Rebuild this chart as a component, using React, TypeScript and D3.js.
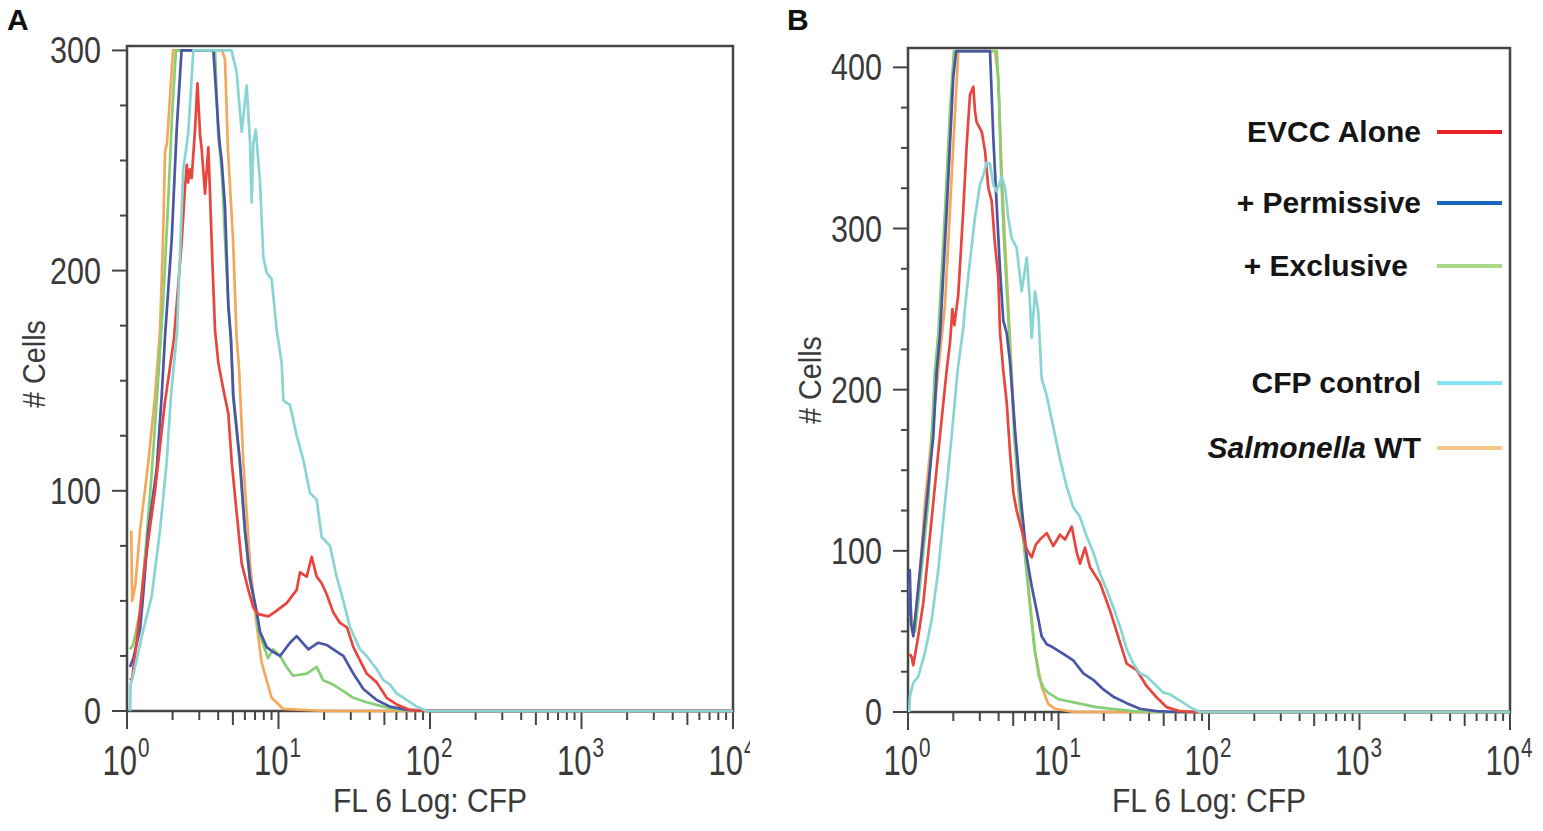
import React, { useEffect, useRef } from 'react';
import * as d3 from 'd3';

// each point: [log10 of FL6 intensity, number of cells]
type Pt = [number, number];

const seriesNames = ['EVCC Alone', '+ Permissive', '+ Exclusive', 'CFP control', 'Salmonella WT'];
const plotColors = ['#e8453f', '#4a55a6', '#86cf74', '#88d5d3', '#f3a85c'];
const legendColors = ['#e8212a', '#1a66bd', '#a9d98b', '#86e4f2', '#f7c88c'];
// order the histograms are painted in (index into seriesNames)
const drawOrder = [4, 2, 1, 0, 3];

const xDecades = [0, 1, 2, 3, 4];
const yTicksA = [0, 100, 200, 300];
const yTicksB = [0, 100, 200, 300, 400];

// ---- Panel A ----
const aEvcc: Pt[] = [
  [0.02, 14], [0.035, 15], [0.073, 37], [0.119, 67], [0.185, 100], [0.25, 140], [0.31, 169],
  [0.361, 213], [0.383, 238], [0.395, 248], [0.403, 240], [0.415, 246], [0.427, 242], [0.449, 264],
  [0.465, 285], [0.482, 262], [0.493, 255], [0.515, 235], [0.537, 256], [0.548, 235], [0.563, 205],
  [0.581, 173], [0.603, 158], [0.636, 146], [0.669, 135], [0.691, 113], [0.724, 90], [0.757, 67],
  [0.801, 55], [0.834, 47], [0.867, 44], [0.933, 43], [0.977, 45], [1.054, 49], [1.12, 55],
  [1.142, 63], [1.186, 61], [1.219, 70], [1.252, 61], [1.285, 58], [1.318, 53], [1.36, 45],
  [1.406, 40], [1.452, 38], [1.494, 29], [1.538, 23], [1.582, 17], [1.648, 13], [1.714, 6],
  [1.78, 3], [1.868, 0.5], [2, 0], [4, 0]
];
const aPermissive: Pt[] = [
  [0.02, 20], [0.042, 24], [0.086, 37], [0.106, 52], [0.141, 82], [0.196, 110], [0.229, 143],
  [0.251, 170], [0.295, 214], [0.328, 264], [0.36, 300], [0.57, 300], [0.603, 265], [0.614, 256],
  [0.625, 250], [0.647, 229], [0.669, 184], [0.686, 169], [0.702, 143], [0.746, 113], [0.779, 82],
  [0.812, 60], [0.856, 45], [0.878, 36], [0.922, 29], [0.96, 27], [1.01, 25], [1.076, 31],
  [1.12, 34], [1.197, 28], [1.263, 31], [1.318, 30], [1.384, 27], [1.428, 25], [1.494, 17],
  [1.56, 10], [1.648, 5], [1.736, 2], [1.85, 0.5], [2, 0], [4, 0]
];
const aExclusive: Pt[] = [
  [0.02, 28], [0.04, 30], [0.086, 45], [0.125, 75], [0.165, 110], [0.205, 150], [0.238, 185],
  [0.271, 230], [0.297, 270], [0.323, 300], [0.581, 300], [0.603, 260], [0.614, 254], [0.629, 241],
  [0.647, 214], [0.669, 184], [0.686, 169], [0.7, 143], [0.744, 113], [0.777, 82], [0.81, 60],
  [0.854, 45], [0.865, 37], [0.9, 30], [0.931, 24], [0.964, 28], [1.01, 25], [1.054, 20],
  [1.096, 16], [1.186, 17], [1.252, 20], [1.294, 14], [1.36, 12], [1.428, 9], [1.494, 6],
  [1.582, 4], [1.692, 2], [1.8, 0.5], [2, 0], [4, 0]
];
const aCfp: Pt[] = [
  [0.02, 0], [0.024, 12], [0.04, 16], [0.108, 37], [0.163, 52], [0.218, 82], [0.262, 113],
  [0.29, 143], [0.33, 172], [0.372, 247], [0.39, 255], [0.405, 263], [0.42, 280], [0.438, 300],
  [0.69, 300], [0.724, 290], [0.757, 263], [0.79, 284], [0.812, 258], [0.823, 231], [0.834, 258],
  [0.85, 264], [0.878, 240], [0.9, 206], [0.922, 199], [0.955, 196], [0.988, 173], [1.021, 158],
  [1.032, 141], [1.076, 139], [1.12, 125], [1.164, 114], [1.208, 99], [1.252, 96], [1.285, 79],
  [1.34, 75], [1.384, 61], [1.428, 50], [1.472, 38], [1.538, 28], [1.582, 25], [1.648, 19],
  [1.692, 14], [1.736, 12], [1.78, 8], [1.846, 5], [1.912, 2], [1.978, 0], [4, 0]
];
const aSalmonella: Pt[] = [
  [0.028, 82], [0.034, 50], [0.055, 57], [0.086, 82], [0.141, 113], [0.185, 143], [0.218, 173],
  [0.238, 215], [0.251, 254], [0.264, 258], [0.304, 300], [0.627, 300], [0.647, 296], [0.667, 254],
  [0.7, 214], [0.724, 169], [0.74, 155], [0.768, 113], [0.812, 67], [0.845, 45], [0.889, 22],
  [0.955, 6], [1.03, 1], [1.3, 0], [4, 0]
];

// ---- Panel B ----
const bEvcc: Pt[] = [
  [0.012, 36], [0.025, 34], [0.035, 29], [0.068, 47], [0.102, 68], [0.135, 99], [0.168, 130],
  [0.201, 161], [0.235, 192], [0.257, 212], [0.28, 230], [0.295, 250], [0.308, 240], [0.334, 259],
  [0.367, 311], [0.39, 352], [0.412, 383], [0.434, 388], [0.445, 373], [0.456, 366], [0.49, 360],
  [0.512, 348], [0.534, 325], [0.556, 317], [0.578, 290], [0.6, 270], [0.611, 236], [0.633, 212],
  [0.656, 192], [0.678, 161], [0.7, 136], [0.722, 125], [0.755, 113], [0.789, 101], [0.822, 96],
  [0.85, 104], [0.877, 107], [0.922, 111], [0.965, 103], [1.01, 110], [1.043, 107], [1.088, 115],
  [1.121, 99], [1.143, 92], [1.176, 102], [1.209, 90], [1.276, 80], [1.342, 63], [1.409, 43],
  [1.453, 30], [1.52, 26], [1.586, 16], [1.653, 9], [1.719, 3], [1.807, 0.5], [1.9, 0], [4, 0]
];
const bPermissive: Pt[] = [
  [0.008, 60], [0.012, 88], [0.02, 55], [0.035, 47], [0.08, 88], [0.124, 130], [0.168, 171],
  [0.191, 212], [0.213, 234], [0.257, 311], [0.301, 394], [0.32, 410], [0.545, 410], [0.567, 356],
  [0.589, 315], [0.611, 275], [0.633, 243], [0.656, 235], [0.678, 217], [0.711, 175], [0.75, 132],
  [0.789, 96], [0.822, 78], [0.855, 63], [0.888, 47], [0.922, 42], [0.965, 40], [1.032, 36],
  [1.098, 32], [1.165, 24], [1.231, 20], [1.298, 14], [1.364, 9.5], [1.453, 5.5], [1.541, 2],
  [1.65, 0.5], [1.8, 0], [4, 0]
];
const bExclusive: Pt[] = [
  [0.01, 60], [0.047, 50], [0.068, 68], [0.135, 130], [0.179, 212], [0.201, 234], [0.246, 311],
  [0.279, 373], [0.305, 410], [0.59, 410], [0.605, 380], [0.62, 330], [0.64, 290], [0.66, 255],
  [0.685, 212], [0.705, 172], [0.74, 130], [0.775, 99], [0.808, 68], [0.84, 40], [0.87, 22],
  [0.9, 15], [0.93, 12], [0.965, 10], [1.0, 8], [1.05, 7], [1.1, 6], [1.15, 5], [1.25, 3],
  [1.35, 2], [1.5, 0.5], [1.7, 0], [4, 0]
];
const bCfp: Pt[] = [
  [0.008, 0], [0.013, 10], [0.035, 18], [0.068, 22], [0.113, 37], [0.157, 57], [0.201, 88],
  [0.246, 130], [0.29, 171], [0.33, 212], [0.367, 238], [0.378, 250], [0.39, 261], [0.412, 280],
  [0.445, 307], [0.478, 327], [0.5, 333], [0.523, 341], [0.545, 340], [0.567, 327], [0.589, 323],
  [0.623, 332], [0.645, 325], [0.666, 307], [0.689, 294], [0.722, 288], [0.755, 261], [0.789, 282],
  [0.811, 253], [0.822, 232], [0.844, 261], [0.866, 248], [0.888, 207], [0.91, 200], [0.922, 196],
  [0.965, 177], [1.01, 157], [1.054, 140], [1.098, 127], [1.143, 121], [1.187, 109], [1.231, 99],
  [1.276, 86], [1.32, 76], [1.364, 65], [1.409, 53], [1.453, 39], [1.497, 30], [1.541, 24],
  [1.586, 22], [1.653, 16], [1.697, 12], [1.74, 11], [1.807, 7], [1.874, 3], [1.94, 0], [4, 0]
];
const bSalmonella: Pt[] = [
  [0.008, 80], [0.025, 57], [0.047, 51], [0.08, 88], [0.113, 130], [0.157, 171], [0.201, 212],
  [0.246, 253], [0.29, 332], [0.334, 410], [0.578, 410], [0.6, 394], [0.623, 332], [0.645, 290],
  [0.666, 253], [0.689, 210], [0.711, 171], [0.744, 130], [0.777, 99], [0.811, 68], [0.844, 37],
  [0.888, 16], [0.932, 5], [0.977, 2], [1.1, 0], [4, 0]
];

const panelASeries = [aEvcc, aPermissive, aExclusive, aCfp, aSalmonella];
const panelBSeries = [bEvcc, bPermissive, bExclusive, bCfp, bSalmonella];

const axisColor = '#454545';
const labelFont = '"Liberation Sans", Arial, sans-serif';

const App: React.FC = () => {
  const svgRef = useRef<SVGSVGElement>(null);

  useEffect(() => {
    if (!svgRef.current) return;
    const svg = d3.select(svgRef.current);
    svg.selectAll('*').remove();

    const panels = [
      { letter: 'A', letterX: 7, x0: 127, x1: 733, yTop: 46, y0: 711, yMax: 302, yTicks: yTicksA,
        series: panelASeries, titleX: 45, titleY: 364, clipX: 0, clipW: 750 },
      { letter: 'B', letterX: 787, x0: 908, x1: 1510, yTop: 48, y0: 712, yMax: 412, yTicks: yTicksB,
        series: panelBSeries, titleX: 821, titleY: 380, clipX: 752, clipW: 791 }
    ];

    const defs = svg.append('defs');

    panels.forEach(p => {
      const clipId = `clip-${p.letter}`;
      defs.append('clipPath').attr('id', clipId)
        .append('rect').attr('x', p.clipX).attr('y', 0)
        .attr('width', p.clipW).attr('height', 831);

      const g = svg.append('g').attr('clip-path', `url(#${clipId})`);

      const x = d3.scaleLog().domain([1, 1e4]).range([p.x0, p.x1]);
      const y = d3.scaleLinear().domain([0, p.yMax]).range([p.y0, p.yTop]).clamp(true);

      // panel letter
      svg.append('text')
        .attr('x', p.letterX).attr('y', 30)
        .style('font-family', labelFont).style('font-weight', 'bold').style('font-size', '30px')
        .style('fill', '#111')
        .text(p.letter);

      // y ticks (minor every 25)
      const topTick = p.yTicks[p.yTicks.length - 1];
      d3.range(0, topTick + 1, 25).forEach(v => {
        const major = v % 100 === 0;
        g.append('line')
          .attr('x1', p.x0 - (major ? 15 : 7)).attr('x2', p.x0)
          .attr('y1', y(v)).attr('y2', y(v))
          .attr('stroke', axisColor).attr('stroke-width', 2);
      });
      p.yTicks.forEach(v => {
        const s = String(v);
        g.append('text')
          .attr('x', p.x0 - 26).attr('y', y(v) + 13)
          .attr('text-anchor', 'end')
          .attr('textLength', s.length * 17).attr('lengthAdjust', 'spacingAndGlyphs')
          .style('font-family', labelFont).style('font-size', '36px').style('fill', '#3a3a3a')
          .text(s);
      });

      // x ticks: decades plus 2..9
      xDecades.forEach(d => {
        const base = Math.pow(10, d);
        const steps = d < 4 ? d3.range(1, 10) : [1];
        steps.forEach(k => {
          const len = k === 1 ? 18 : k === 5 ? 14 : 9;
          const px = x(k * base);
          g.append('line')
            .attr('x1', px).attr('x2', px)
            .attr('y1', p.y0).attr('y2', p.y0 + len)
            .attr('stroke', axisColor).attr('stroke-width', 2);
        });
        // tall narrow "10^d": squeeze the whole label horizontally
        const lbl = g.append('g')
          .attr('transform', `translate(${x(base) - 24.5},775) scale(0.74,1)`)
          .style('font-family', labelFont).style('fill', '#3a3a3a');
        lbl.append('text')
          .attr('x', 0).attr('y', 0)
          .style('font-size', '42px')
          .text('10');
        lbl.append('text')
          .attr('x', 48).attr('y', -18)
          .style('font-size', '28px')
          .text(String(d));
      });

      // axis titles
      g.append('text')
        .attr('x', (p.x0 + p.x1) / 2).attr('y', 812)
        .attr('text-anchor', 'middle')
        .attr('textLength', 194).attr('lengthAdjust', 'spacingAndGlyphs')
        .style('font-family', labelFont).style('font-size', '33px').style('fill', '#3a3a3a')
        .text('FL 6 Log: CFP');
      g.append('text')
        .attr('transform', `translate(${p.titleX},${p.titleY}) rotate(-90)`)
        .attr('text-anchor', 'middle')
        .attr('textLength', 88).attr('lengthAdjust', 'spacingAndGlyphs')
        .style('font-family', labelFont).style('font-size', '32px').style('fill', '#3a3a3a')
        .text('# Cells');

      // frame
      g.append('rect')
        .attr('x', p.x0).attr('y', p.yTop)
        .attr('width', p.x1 - p.x0).attr('height', p.y0 - p.yTop)
        .attr('fill', 'none').attr('stroke', axisColor).attr('stroke-width', 2.5);

      // histograms
      const line = d3.line<Pt>()
        .x(d => x(Math.pow(10, d[0])))
        .y(d => y(d[1]));

      drawOrder.forEach(i => {
        g.append('path')
          .datum(p.series[i])
          .attr('d', line)
          .attr('fill', 'none')
          .attr('stroke', plotColors[i])
          .attr('stroke-width', 2.7)
          .attr('stroke-linejoin', 'round');
      });
    });

    // legend (panel B)
    const legendRowY = [132, 203, 266, 383, 448];
    const legend = svg.append('g');
    seriesNames.forEach((name, i) => {
      const ry = legendRowY[i];
      const t = legend.append('text')
        .attr('x', name === '+ Exclusive' ? 1408 : 1421).attr('y', ry + 10)
        .attr('text-anchor', 'end')
        .style('font-family', labelFont).style('font-weight', 'bold').style('font-size', '30px')
        .style('fill', '#151515');
      if (name.startsWith('Salmonella')) {
        t.append('tspan').style('font-style', 'italic').text('Salmonella');
        t.append('tspan').text(' WT');
      } else {
        t.text(name);
      }
      legend.append('line')
        .attr('x1', 1437).attr('x2', 1502)
        .attr('y1', ry).attr('y2', ry)
        .attr('stroke', legendColors[i]).attr('stroke-width', 4);
    });
  }, []);

  return (
    <svg
      ref={svgRef}
      width={1543}
      height={831}
      style={{ position: 'absolute', left: 0, top: 0, background: '#fff' }}
    />
  );
};

export default App;
